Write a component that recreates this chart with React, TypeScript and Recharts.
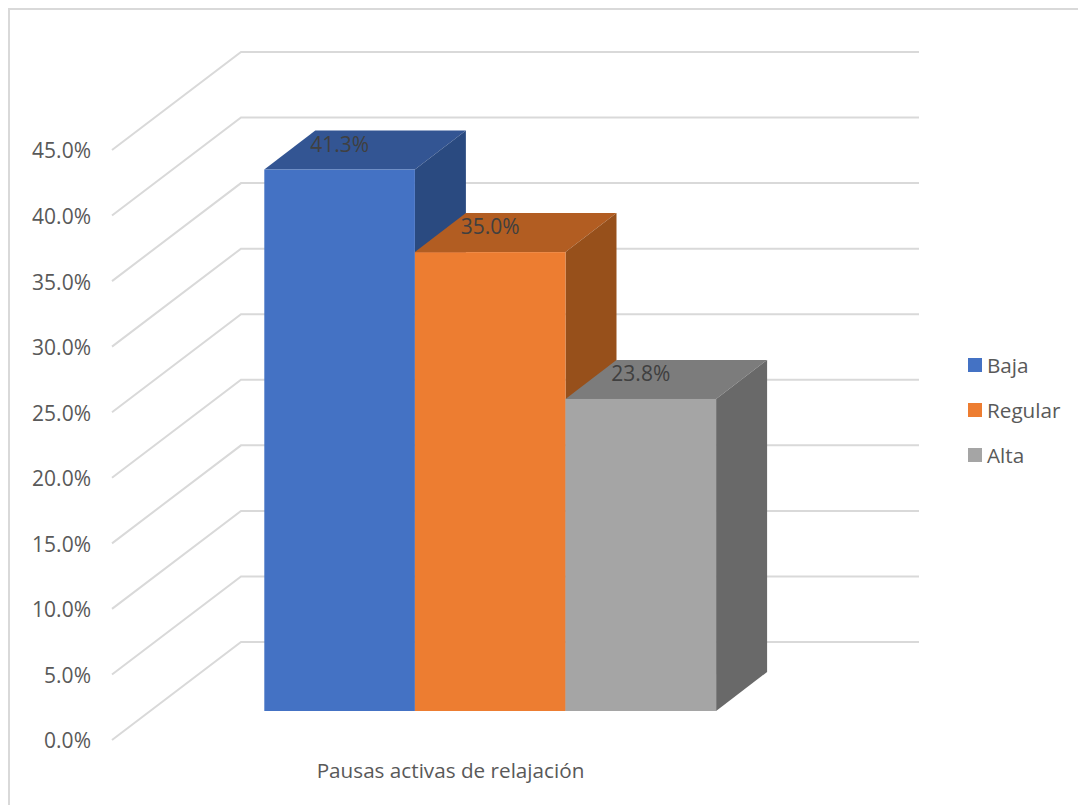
import { BarChart, Bar, XAxis, YAxis, CartesianGrid, LabelList, Legend } from 'recharts';

const categories = ['Pausas activas de relajación'];
const seriesNames = ['Baja', 'Regular', 'Alta'];
const seriesValues = [41.3, 35.0, 23.8];
const yTicks = [0, 5, 10, 15, 20, 25, 30, 35, 40, 45];

// front, top and side face of each bar
const frontColors = ['#4472C4', '#ED7D31', '#A5A5A5'];
const topColors = ['#335593', '#B25D22', '#7C7C7C'];
const sideColors = ['#2A4A80', '#97501B', '#696969'];

const chartData = categories.map((category) => {
  const row: Record<string, string | number> = { category };
  seriesNames.forEach((name, i) => {
    row[name] = seriesValues[i];
  });
  return row;
});

const FONT = '"Open Sans", sans-serif';

// depth of the back wall and of the bars, and where the bars stand on the floor
const WALL_DX = 129;
const WALL_DY = -98;
const BAR_DX = 51;
const BAR_DY = -39;
const BAR_SHIFT_X = 39.3;
const BAR_SHIFT_Y = -29;
const WALL_RIGHT = 909;

function WallLine({ x1, y1, index }: any) {
  const points = `${x1},${y1} ${x1 + WALL_DX},${y1 + WALL_DY} ${WALL_RIGHT},${y1 + WALL_DY}`;
  return <polyline key={index} points={points} fill="none" stroke="#D9D9D9" strokeWidth={2} />;
}

function makeBox(seriesIndex: number) {
  return function Box({ x, y, width, height }: any) {
    const l = x + BAR_SHIFT_X;
    const r = l + width;
    const t = y + BAR_SHIFT_Y;
    const b = t + height;
    return (
      <g>
        <polygon
          points={`${l},${t} ${l + BAR_DX},${t + BAR_DY} ${r + BAR_DX},${t + BAR_DY} ${r},${t}`}
          fill={topColors[seriesIndex]}
        />
        <polygon
          points={`${r},${t} ${r + BAR_DX},${t + BAR_DY} ${r + BAR_DX},${b + BAR_DY} ${r},${b}`}
          fill={sideColors[seriesIndex]}
        />
        <rect x={l} y={t} width={width} height={height} fill={frontColors[seriesIndex]} />
      </g>
    );
  };
}

function SwatchLegend() {
  return (
    <div style={{ fontFamily: FONT, fontSize: 20.7, color: '#595959' }}>
      {seriesNames.map((name, i) => (
        <div key={name} style={{ display: 'flex', alignItems: 'center', height: 45 }}>
          <span style={{ width: 14, height: 14, background: frontColors[i], marginRight: 5 }} />
          {name}
        </div>
      ))}
    </div>
  );
}

export default function App() {
  return (
    <div
      style={{
        width: 1076,
        height: 795,
        borderTop: '2px solid #D9D9D9',
        borderLeft: '2px solid #D9D9D9',
        overflow: 'hidden',
        background: '#fff',
      }}
    >
      <BarChart
        width={1076}
        height={795}
        data={chartData}
        barSize={150.6}
        barGap={0}
        margin={{ top: 140, right: 182, bottom: 35, left: 12 }}
      >
        <CartesianGrid vertical={false} horizontal={WallLine as any} />
        <XAxis
          dataKey="category"
          axisLine={false}
          tickLine={false}
          tickMargin={17}
          tick={{ fontFamily: FONT, fontSize: 20.7, fill: '#595959' }}
        />
        <YAxis
          domain={[0, 45]}
          ticks={yTicks}
          interval={0}
          width={90}
          axisLine={false}
          tickLine={false}
          tickMargin={15}
          tickFormatter={(v: number) => `${v.toFixed(1)}%`}
          tick={{ fontFamily: FONT, fontSize: 21, fill: '#595959', dy: 1 }}
        />
        <Legend
          layout="vertical"
          align="right"
          verticalAlign="top"
          content={<SwatchLegend />}
          wrapperStyle={{ left: 958, top: 332, width: 115 }}
        />
        {seriesNames.map((name, i) => (
          <Bar key={name} dataKey={name} shape={makeBox(i)} isAnimationActive={false}>
            <LabelList
              dataKey={name}
              position="top"
              dx={BAR_SHIFT_X}
              dy={-42}
              formatter={(v: any) => `${Number(v).toFixed(1)}%`}
              style={{ fontFamily: FONT, fontSize: 21, fill: '#404040' }}
            />
          </Bar>
        ))}
      </BarChart>
    </div>
  );
}
